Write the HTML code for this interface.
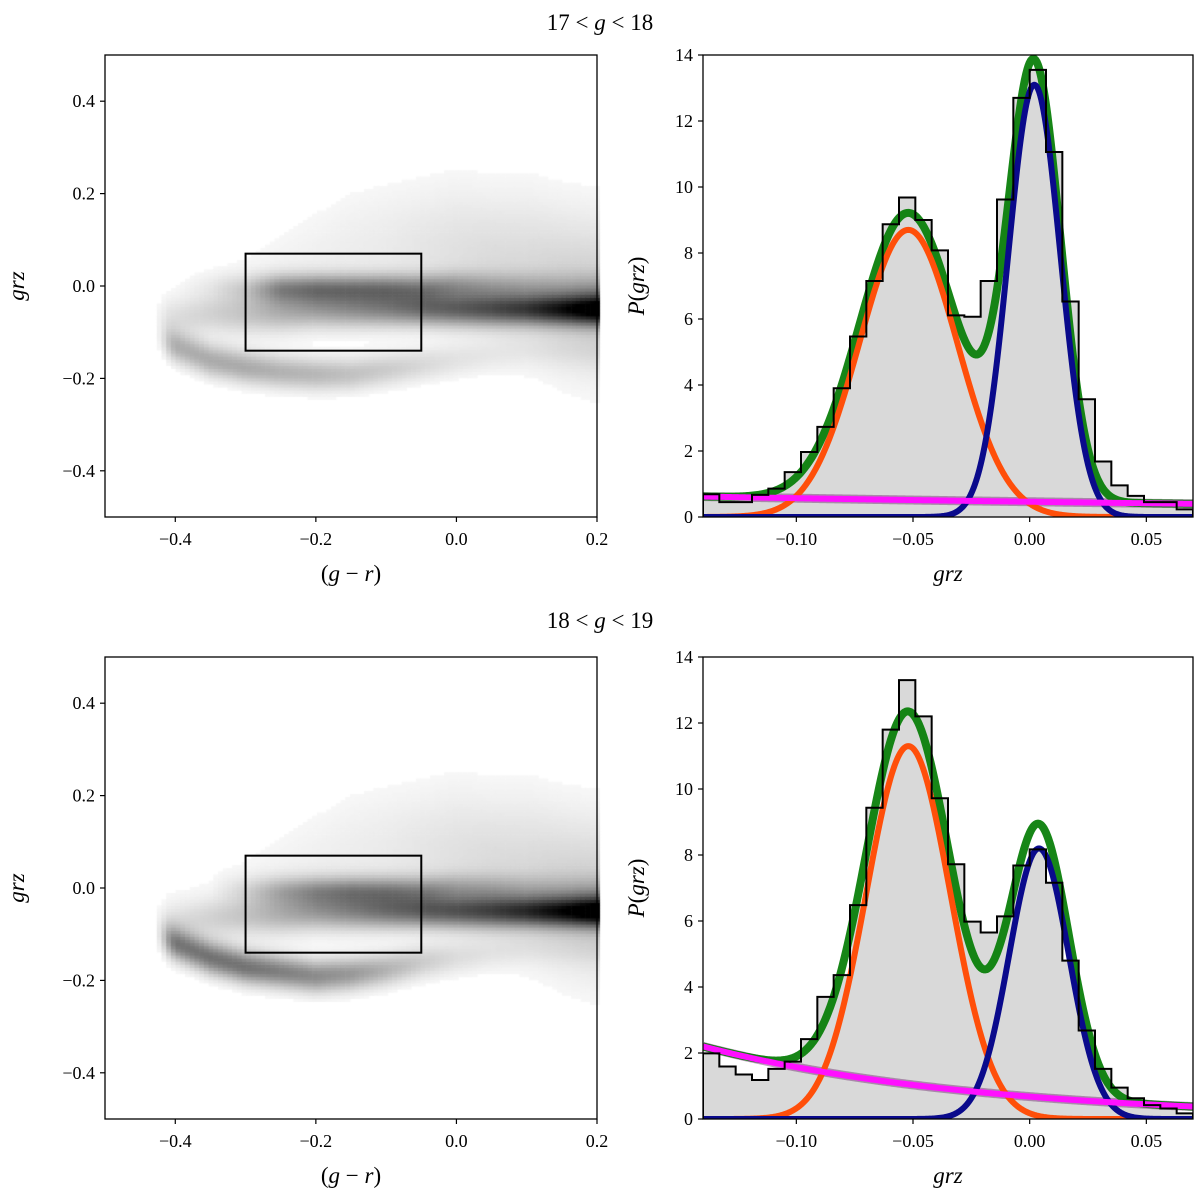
<!DOCTYPE html>
<html><head><meta charset="utf-8">
<style>
html,body{margin:0;padding:0;background:#fff;}
#wrap{position:relative;width:1200px;height:1202px;overflow:hidden;}
canvas{position:absolute;left:0;top:0;}
svg{position:absolute;left:0;top:0;}
text{font-family:"Liberation Serif","DejaVu Serif",serif;fill:#000;}
</style></head>
<body>
<div id="wrap">
<canvas id="hm" width="1200" height="1202"></canvas>
<svg id="fig" width="1200" height="1202" xmlns="http://www.w3.org/2000/svg"></svg>
</div>
<script>
// ---------- data ----------
const nodeX = [-0.43,-0.40,-0.35,-0.30,-0.25,-0.20,-0.15,-0.10,-0.05,0.00,0.05,0.10,0.15,0.20];
// top 2D density components (17<g<18)
const t_mainY = [-0.07,-0.07,-0.06,-0.06,-0.055,-0.05,-0.05,-0.05,-0.05,-0.05,-0.05,-0.05,-0.05,-0.05];
const t_mainS = [0.03,0.03,0.03,0.03,0.03,0.028,0.027,0.026,0.025,0.025,0.025,0.024,0.024,0.024];
const t_mainA = [0.05,0.1,0.15,0.2,0.28,0.33,0.38,0.43,0.5,0.55,0.6,0.66,0.78,0.95];
const t_upY = [0,0,0,-0.005,-0.005,-0.005,-0.005,-0.005,-0.005,0,0,0,0,0];
const t_upA = [0,0,0.05,0.15,0.4,0.45,0.45,0.45,0.4,0.3,0.22,0.18,0.14,0.14];
const t_lowY = [-0.11,-0.13,-0.16,-0.175,-0.185,-0.19,-0.19,-0.18,-0.17,-0.16,-0.15,-0.14,-0.14,-0.14];
const t_lowA = [0,0.3,0.33,0.33,0.3,0.28,0.24,0.2,0.15,0.1,0.07,0.05,0.05,0.05];
const t_cldY = [-0.05,-0.05,-0.03,0,0.03,0.05,0.07,0.08,0.08,0.07,0.05,0.03,0.0,-0.02];
const t_cldS = [0.05,0.05,0.06,0.07,0.08,0.09,0.1,0.1,0.1,0.11,0.11,0.12,0.12,0.12];
const t_cldA = [0.02,0.03,0.03,0.04,0.05,0.06,0.07,0.08,0.1,0.12,0.14,0.15,0.18,0.2];
// bottom 2D density components (18<g<19)
const b_mainY = [-0.08,-0.075,-0.065,-0.06,-0.055,-0.05,-0.05,-0.05,-0.05,-0.05,-0.05,-0.05,-0.05,-0.05];
const b_mainS = [0.03,0.03,0.03,0.03,0.03,0.028,0.027,0.026,0.025,0.025,0.025,0.024,0.024,0.024];
const b_mainA = [0.05,0.1,0.15,0.2,0.28,0.35,0.42,0.5,0.56,0.6,0.65,0.72,0.82,0.97];
const b_upY = [0,0,0,-0.005,-0.005,-0.005,-0.005,-0.005,-0.005,0,0,0,0,0];
const b_upA = [0,0,0,0.1,0.25,0.35,0.4,0.4,0.35,0.25,0.2,0.15,0.12,0.12];
const b_lowY = [-0.10,-0.12,-0.15,-0.17,-0.18,-0.19,-0.185,-0.175,-0.16,-0.15,-0.14,-0.13,-0.13,-0.13];
const b_lowA = [0,0.5,0.55,0.55,0.5,0.45,0.4,0.3,0.2,0.12,0.08,0.06,0.05,0.05];
const b_cldY = [-0.05,-0.05,-0.03,0,0.03,0.05,0.07,0.08,0.08,0.07,0.05,0.03,0.0,-0.02];
const b_cldS = [0.05,0.05,0.06,0.07,0.08,0.09,0.1,0.1,0.1,0.11,0.11,0.12,0.12,0.12];
const b_cldA = [0.02,0.03,0.03,0.04,0.05,0.06,0.07,0.08,0.1,0.12,0.14,0.15,0.18,0.2];

// 1D histograms: 30 bins from -0.14 to 0.07
const histTop = [0.69,0.45,0.45,0.67,0.86,1.36,1.97,2.73,3.9,5.47,7.15,8.87,9.68,9.0,8.08,6.11,6.07,7.15,9.62,12.7,13.55,11.06,6.53,3.57,1.68,0.96,0.64,0.45,0.45,0.23];
const histBot = [1.99,1.59,1.35,1.18,1.52,1.74,2.42,3.7,4.36,6.48,9.43,11.8,13.3,12.2,9.72,7.72,5.98,5.65,6.14,7.68,8.17,7.16,4.8,2.68,1.52,0.95,0.63,0.42,0.32,0.17];
// model params: [amp, mean, sigma]
const orangeTop = [8.7,-0.052,0.021];
const blueTop = [13.1,0.002,0.0112];
const bgTop = [0.62,2.09];
const orangeBot = [11.3,-0.052,0.018];
const blueBot = [8.2,0.004,0.0128];
const bgBot = [2.2,8.4];
const leftXTicks = [-0.4,-0.2,0.0,0.2];
const leftYTicks = [0.4,0.2,0.0,-0.2,-0.4];
const rightXTicks = [-0.10,-0.05,0.00,0.05];
const rightYTicks = [0,2,4,6,8,10,12,14];
const boxRegion = [-0.3,-0.05,-0.14,0.07];

// ---------- helpers ----------
const NS="http://www.w3.org/2000/svg";
const svg=document.getElementById('fig');
function el(tag,attrs,parent){const e=document.createElementNS(NS,tag);for(const k in attrs)e.setAttribute(k,attrs[k]);(parent||svg).appendChild(e);return e;}
function interp(arr,x){
  if(x<=nodeX[0])return arr[0];
  for(let i=0;i<nodeX.length-1;i++){if(x<=nodeX[i+1]){const t=(x-nodeX[i])/(nodeX[i+1]-nodeX[i]);return arr[i]*(1-t)+arr[i+1]*t;}}
  return arr[arr.length-1];
}
function fmt(v,d){const s=Math.abs(v).toFixed(d);return (v<-1e-9?'\u2212':'')+s;}

const L={x0:105,x1:597};
const R={x0:703,x1:1193};
const panels=[{top:55,bot:517},{top:657,bot:1119}];

// ---------- heatmaps ----------
const ctx=document.getElementById('hm').getContext('2d');
function drawHeat(p,c){
  const X=v=>L.x0+(v+0.5)/0.7*(L.x1-L.x0);
  const Y=v=>p.bot-(v+0.5)/1.0*(p.bot-p.top);
  const step=0.0067;
  for(let gx=-0.5;gx<0.2;gx+=step){
    const xc=gx+step/2;
    if(xc<-0.44)continue;
    const edge=Math.min(1,Math.max(0,(xc+0.44)/0.03));
    for(let gy=-0.5;gy<0.5;gy+=step){
      const yc=gy+step/2;let d=0;
      const comps=[[c.mainY,c.mainS,c.mainA],[c.upY,null,c.upA],[c.lowY,null,c.lowA],[c.cldY,c.cldS,c.cldA]];
      const defS=[0,0.022,0.025];
      comps.forEach((k,i)=>{const yy=interp(k[0],xc);const ss=k[1]?interp(k[1],xc):defS[i];const aa=interp(k[2],xc);d+=aa*Math.exp(-0.5*((yc-yy)/ss)**2);});
      d*=edge;
      if(d<0.03)continue;
      d=Math.min(1,d);
      const g=Math.round(255*(1-d));
      ctx.fillStyle=`rgb(${g},${g},${g})`;
      const x0=X(gx),x1=X(gx+step),y0=Y(gy+step),y1=Y(gy);
      ctx.fillRect(x0,y0,x1-x0+0.6,y1-y0+0.6);
    }
  }
}
drawHeat(panels[0],{mainY:t_mainY,mainS:t_mainS,mainA:t_mainA,upY:t_upY,upA:t_upA,lowY:t_lowY,lowA:t_lowA,cldY:t_cldY,cldS:t_cldS,cldA:t_cldA});
drawHeat(panels[1],{mainY:b_mainY,mainS:b_mainS,mainA:b_mainA,upY:b_upY,upA:b_upA,lowY:b_lowY,lowA:b_lowA,cldY:b_cldY,cldS:b_cldS,cldA:b_cldA});

// ---------- left panels axes ----------
function leftAxes(p,idx){
  const g=el('g',{});
  
  
  const X=v=>L.x0+(v+0.5)/0.7*(L.x1-L.x0);
  const Y=v=>p.bot-(v+0.5)/1.0*(p.bot-p.top);
  const b=el('rect',{x:X(boxRegion[0]),y:Y(boxRegion[3]),width:X(boxRegion[1])-X(boxRegion[0]),height:Y(boxRegion[2])-Y(boxRegion[3]),fill:'none',stroke:'#000','stroke-width':2},g);
  
  
  el('rect',{x:L.x0,y:p.top,width:L.x1-L.x0,height:p.bot-p.top,fill:'none',stroke:'#000','stroke-width':1.3},g);
  leftXTicks.forEach(v=>{el('line',{x1:X(v),x2:X(v),y1:p.bot,y2:p.bot+5,stroke:'#000','stroke-width':1.2},g);
    const t=el('text',{x:X(v),y:p.bot+28,'font-size':18,'text-anchor':'middle'},g);t.textContent=fmt(v,1);
    });
  leftYTicks.forEach(v=>{el('line',{x1:L.x0-5,x2:L.x0,y1:Y(v),y2:Y(v),stroke:'#000','stroke-width':1.2},g);
    const t=el('text',{x:L.x0-10,y:Y(v)+6,'font-size':18,'text-anchor':'end'},g);t.textContent=fmt(v,1);
    });
  const xl=el('text',{x:(L.x0+L.x1)/2,y:p.bot+64,'font-size':23,'text-anchor':'middle'},g);
  xl.innerHTML='(<tspan font-style="italic">g</tspan> \u2212 <tspan font-style="italic">r</tspan>)';
  
  const cy=(p.top+p.bot)/2;
  const yl=el('text',{x:24,y:cy,'font-size':23,'text-anchor':'middle','font-style':'italic',transform:`rotate(-90 24 ${cy})`},g);
  yl.textContent='grz';
  
}
leftAxes(panels[0],0);leftAxes(panels[1],1);

// ---------- right panels ----------
function rightPanel(p,idx,hist,orn,blu,bg){
  const g=el('g',{});
  
  
  const X=v=>R.x0+(v+0.14)/0.21*(R.x1-R.x0);
  const Y=v=>p.bot-v/14*(p.bot-p.top);
  const w=0.21/hist.length;
  let d=`M${X(-0.14)},${Y(0)}`;
  hist.forEach((h,i)=>{d+=` L${X(-0.14+i*w)},${Y(h)} L${X(-0.14+(i+1)*w)},${Y(h)}`;});
  d+=` L${X(0.07)},${Y(0)} Z`;
  const f=el('path',{d:d,fill:'#d9d9d9',stroke:'none'},g);
  
  const gauss=(q,x)=>q[0]*Math.exp(-0.5*((x-q[1])/q[2])**2);
  const bgf=x=>bg[0]*Math.exp(-bg[1]*(x+0.14));
  const curve=(fn)=>{let s='';for(let i=0;i<=420;i++){const x=-0.14+0.21*i/420;s+=(i?' L':'M')+X(x).toFixed(2)+','+Y(fn(x)).toFixed(2);}return s;};
  const clip=el('clipPath',{id:'clip'+idx},g);
  el('rect',{x:R.x0,y:p.top,width:R.x1-R.x0,height:p.bot-p.top},clip);
  const cg=el('g',{'clip-path':`url(#clip${idx})`},g);
  const pu=el('path',{d:curve(bgf),fill:'none',stroke:'#7a3a7a','stroke-width':9,'stroke-opacity':0.5,'stroke-linejoin':'round'},cg);
  
  const gr=el('path',{d:curve(x=>gauss(orn,x)+gauss(blu,x)+bgf(x)),fill:'none',stroke:'#0b7f0b','stroke-width':8,'stroke-opacity':0.95,'stroke-linejoin':'round'},cg);
  
  const oc=el('path',{d:curve(x=>gauss(orn,x)),fill:'none',stroke:'#ff4f0a','stroke-width':6,'stroke-linejoin':'round'},cg);
  
  const bc=el('path',{d:curve(x=>gauss(blu,x)),fill:'none',stroke:'#0a0a8c','stroke-width':6,'stroke-linejoin':'round'},cg);
  
  const mc=el('path',{d:curve(bgf),fill:'none',stroke:'#ff10ff','stroke-width':6,'stroke-linejoin':'round'},cg);
  
  let s=`M${X(-0.14)},${Y(0)}`;
  hist.forEach((h,i)=>{s+=` L${X(-0.14+i*w)},${Y(h)} L${X(-0.14+(i+1)*w)},${Y(h)}`;});
  s+=` L${X(0.07)},${Y(0)}`;
  const sp=el('path',{d:s,fill:'none',stroke:'#000','stroke-width':2},cg);
  
  el('rect',{x:R.x0,y:p.top,width:R.x1-R.x0,height:p.bot-p.top,fill:'none',stroke:'#000','stroke-width':1.3},g);
  rightXTicks.forEach(v=>{el('line',{x1:X(v),x2:X(v),y1:p.bot,y2:p.bot+5,stroke:'#000','stroke-width':1.2},g);
    const t=el('text',{x:X(v),y:p.bot+28,'font-size':18,'text-anchor':'middle'},g);t.textContent=fmt(v,2);
    });
  rightYTicks.forEach(v=>{el('line',{x1:R.x0-5,x2:R.x0,y1:Y(v),y2:Y(v),stroke:'#000','stroke-width':1.2},g);
    const t=el('text',{x:R.x0-10,y:Y(v)+6,'font-size':18,'text-anchor':'end'},g);t.textContent=String(v);
    });
  const xl=el('text',{x:(R.x0+R.x1)/2,y:p.bot+64,'font-size':23,'text-anchor':'middle','font-style':'italic'},g);
  xl.textContent='grz';
  
  const cy=(p.top+p.bot)/2;
  const yl=el('text',{x:644,y:cy,'font-size':23,'text-anchor':'middle',transform:`rotate(-90 644 ${cy})`},g);
  yl.innerHTML='<tspan font-style="italic">P</tspan>(<tspan font-style="italic">grz</tspan>)';
  
}
rightPanel(panels[0],0,histTop,orangeTop,blueTop,bgTop);
rightPanel(panels[1],1,histBot,orangeBot,blueBot,bgBot);

// ---------- titles ----------
const t1=el('text',{x:600,y:30,'font-size':23,'text-anchor':'middle'});
t1.innerHTML='17 &lt; <tspan font-style="italic">g</tspan> &lt; 18';

const t2=el('text',{x:600,y:628,'font-size':23,'text-anchor':'middle'});
t2.innerHTML='18 &lt; <tspan font-style="italic">g</tspan> &lt; 19';

</script>
</body></html>
